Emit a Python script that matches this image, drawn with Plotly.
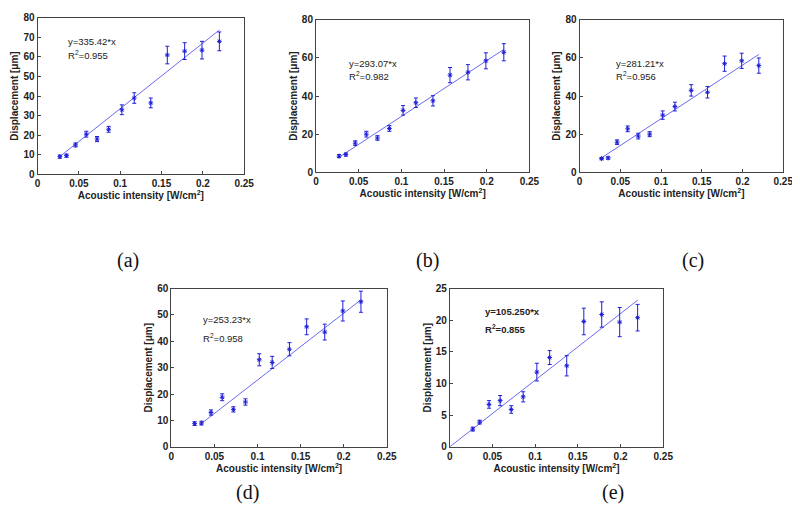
import plotly.graph_objects as go

intensity = [0.027, 0.035, 0.046, 0.059, 0.072, 0.086, 0.102, 0.117, 0.137, 0.157, 0.178, 0.199, 0.22]

disp_a = [9, 9.5, 15, 20.5, 18, 23, 33, 39, 36.5, 61, 63, 63.5, 68]
err_a = [0.8, 0.8, 1.0, 1.5, 1.3, 1.5, 2.5, 2.7, 2.5, 4.5, 4.3, 4.5, 4.8]
disp_b = [8.5, 9.3, 15.3, 20, 18, 23, 32.5, 36.5, 37.5, 51, 52.5, 58.5, 63]
err_b = [0.8, 0.8, 1.2, 1.5, 1.2, 1.5, 2.5, 2.5, 2.7, 4, 4, 4.2, 4.5]
disp_c = [7.2, 7.5, 15.8, 22.8, 19, 20, 30, 34.5, 43, 42, 57, 58.5, 56]
err_c = [0.6, 0.6, 1.2, 1.5, 1.5, 1.3, 2.2, 2.3, 3, 3, 4, 4, 4]
disp_d = [8.8, 9, 13, 18.8, 14.2, 17, 33, 32, 37, 45.5, 43.5, 51.5, 55]
err_d = [0.7, 0.7, 1.0, 1.3, 1.0, 1.2, 2.3, 2.3, 2.5, 3, 3, 3.8, 4]
disp_e = [2.8, 3.9, 6.7, 7.3, 5.9, 7.9, 11.8, 14.1, 12.8, 19.8, 20.9, 19.7, 20.4]
err_e = [0.3, 0.3, 0.6, 0.8, 0.6, 0.8, 1.4, 1.1, 1.6, 2.1, 2.0, 2.3, 2.1]

slopes = [335.42, 293.07, 281.21, 253.23, 105.250]
eq_texts = ["y=335.42*x", "y=293.07*x", "y=281.21*x", "y=253.23*x", "y=105.250*x"]
r2_texts = ["R<sup>2</sup>=0.955", "R<sup>2</sup>=0.982", "R<sup>2</sup>=0.956",
            "R<sup>2</sup>=0.958", "R<sup>2</sup>=0.855"]
panel_labels = ["(a)", "(b)", "(c)", "(d)", "(e)"]
y_max = [80, 80, 80, 60, 25]
y_dtick = [10, 20, 20, 10, 5]

W, H = 800, 523
# pixel boxes: (left, right, top, bottom)
boxes = [(27, 237, 4, 164), (310, 527, 6, 162), (578, 785, 6, 162),
         (163, 382, 281, 443), (446, 663, 281, 443)]
text_pos = [(0.034, 68, 61), (0.0365, 57.2, 50.3), (0.0417, 57.2, 50.7),
            (0.034, 48.3, 41.1), (0.0384, 21.3, 18.6)]
label_pos = [(119, 252), (423, 252), (693, 252), (240, 490), (612, 490)]
fit_start = [0.029, 0.027, 0.027, 0.033, 0.0]

datasets = [(disp_a, err_a), (disp_b, err_b), (disp_c, err_c), (disp_d, err_d), (disp_e, err_e)]

blue = "#1f1fd8"
fitblue = "#6b6bf0"
font_fam = "Liberation Sans, Arial, sans-serif"

fig = go.Figure()
annotations = []
for i, ((ys, es), slope) in enumerate(zip(datasets, slopes)):
    n = "" if i == 0 else str(i + 1)
    xa, ya = "x" + n, "y" + n
    x0f, x1f = fit_start[i], intensity[-1]
    fig.add_trace(go.Scatter(x=[x0f, x1f], y=[slope * x0f, slope * x1f], mode="lines",
                             line=dict(color=fitblue, width=1), xaxis=xa, yaxis=ya,
                             showlegend=False, hoverinfo="skip"))
    fig.add_trace(go.Scatter(x=intensity, y=ys, mode="markers",
                             marker=dict(symbol="asterisk-open", size=4, color=blue,
                                         line=dict(color=blue, width=1)),
                             error_y=dict(type="data", array=es, color=blue, thickness=1, width=2),
                             xaxis=xa, yaxis=ya, showlegend=False))
    l, r, t, b = boxes[i]
    axis_common = dict(showline=True, mirror=True, linecolor="#444444", linewidth=1,
                       ticks="inside", ticklen=3, tickcolor="#444444", showgrid=False,
                       zeroline=False, ticklabeloverflow="allow",
                       tickfont=dict(family=font_fam, size=10, color="#222222", weight="bold"))
    fig.layout["xaxis" + n] = dict(domain=[l / W, r / W], anchor=ya, range=[0, 0.25],
                                  tickvals=[0, 0.05, 0.1, 0.15, 0.2, 0.25],
                                  ticktext=["0", "0.05", "0.1", "0.15", "0.2", "0.25"],
                                  title=dict(text="Acoustic intensity [W/cm<sup>2</sup>]", standoff=2,
                                             font=dict(family=font_fam, size=10, color="#222222",
                                                       weight="bold")),
                                  **axis_common)
    fig.layout["yaxis" + n] = dict(domain=[1 - b / H, 1 - t / H], anchor=xa, range=[0, y_max[i]],
                                  dtick=y_dtick[i],
                                  title=dict(text="Displacement [μm]", standoff=2,
                                             font=dict(family=font_fam, size=10, color="#222222",
                                                       weight="bold")),
                                  **axis_common)
    tx, ty1, ty2 = text_pos[i]
    tw = "bold" if i == 4 else "normal"
    for txt, ty in [(eq_texts[i], ty1), (r2_texts[i], ty2)]:
        annotations.append(dict(x=tx, y=ty, xref=xa, yref=ya, text=txt, showarrow=False,
                                xanchor="left", yanchor="middle",
                                font=dict(family=font_fam, size=9.5, color="#222222", weight=tw)))
    lx, ly = label_pos[i]
    annotations.append(dict(x=lx / W, y=1 - ly / H, xref="paper", yref="paper", text=panel_labels[i],
                            showarrow=False, xanchor="center", yanchor="middle",
                            font=dict(family="Liberation Serif, Times New Roman, serif", size=20,
                                      color="#111111")))

fig.update_layout(width=W, height=H, margin=dict(l=0, r=0, t=0, b=0),
                  paper_bgcolor="white", plot_bgcolor="white", annotations=annotations)
fig.write_html("out.html")
